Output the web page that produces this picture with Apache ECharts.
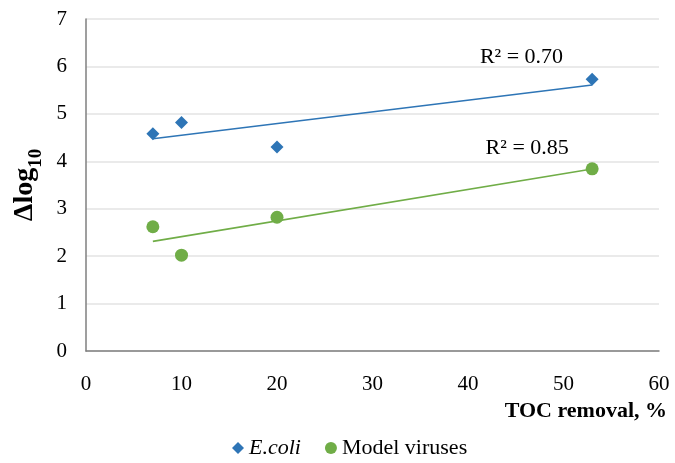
<!DOCTYPE html>
<html><head><meta charset="utf-8">
<script src="https://cdn.jsdelivr.net/npm/echarts@6/dist/echarts.min.js"></script>
<style>html,body{margin:0;padding:0;background:#fff}#c{width:675px;height:463px}</style>
</head><body><div id="c"></div>
<script>
const toc = [7, 10, 20, 53];
const ecoli = [4.58, 4.82, 4.30, 5.73];
const viruses = [2.62, 2.02, 2.82, 3.84];
const xTicks = [0, 10, 20, 30, 40, 50, 60];
const yTicks = [0, 1, 2, 3, 4, 5, 6, 7];
const r2Labels = ['R² = 0.70', 'R² = 0.85'];
const r2Pos = [[45.6, 6.2], [46.2, 4.28]];

function fit(xs, ys) {
  const n = xs.length;
  const mx = xs.reduce((a, b) => a + b, 0) / n;
  const my = ys.reduce((a, b) => a + b, 0) / n;
  let sxy = 0, sxx = 0;
  for (let i = 0; i < n; i++) { sxy += (xs[i] - mx) * (ys[i] - my); sxx += (xs[i] - mx) ** 2; }
  const b = sxy / sxx, a = my - b * mx;
  const x0 = Math.min(...xs), x1 = Math.max(...xs);
  return [[x0, a + b * x0], [x1, a + b * x1]];
}
const pts = (xs, ys) => xs.map((x, i) => [x, ys[i]]);
const BLUE = '#2E75B6', GREEN = '#70AD47';
const FONT = 'Liberation Serif';

const chart = echarts.init(document.getElementById('c'));
chart.setOption({
  animation: false,
  textStyle: { fontFamily: FONT },
  grid: { left: 86, right: 16, top: 19, bottom: 112, containLabel: false },
  legend: {
    bottom: -1, left: 227, itemWidth: 12, itemHeight: 12, itemGap: 24,
    data: [{ name: 'E.coli', icon: 'diamond' }, { name: 'Model viruses', icon: 'circle' }],
    formatter: n => n === 'E.coli' ? '{i|E.coli}' : n,
    textStyle: { fontFamily: FONT, fontSize: 22, color: '#000', rich: { i: { fontStyle: 'italic', fontFamily: FONT, fontSize: 22 } } }
  },
  xAxis: {
    type: 'value', min: xTicks[0], max: xTicks[xTicks.length - 1], interval: 10,
    axisLine: { show: true, lineStyle: { color: '#7f7f7f', width: 1.5 } },
    axisTick: { show: false }, splitLine: { show: false },
    axisLabel: { fontFamily: FONT, fontSize: 21, color: '#000', margin: 23 },
    name: 'TOC removal, %', nameLocation: 'end', nameGap: 8,
    nameTextStyle: { fontFamily: FONT, fontSize: 22, fontWeight: 'bold', color: '#000', align: 'right', verticalAlign: 'top', padding: [49, 0, 0, 0] }
  },
  yAxis: {
    type: 'value', min: yTicks[0], max: yTicks[yTicks.length - 1], interval: 1,
    axisLine: { show: true, lineStyle: { color: '#7f7f7f', width: 1.5 } },
    axisTick: { show: false },
    splitLine: { lineStyle: { color: '#e3e3e3', width: 1.5 } },
    axisLabel: { fontFamily: FONT, fontSize: 21, color: '#000', margin: 19 },
    name: '{a|Δlog}{b|10}', nameLocation: 'middle', nameGap: 41,
    nameTextStyle: {
      color: '#000',
      rich: {
        a: { fontFamily: FONT, fontSize: 28, fontWeight: 'bold', color: '#000', verticalAlign: 'bottom', lineHeight: 30 },
        b: { fontFamily: FONT, fontSize: 19, fontWeight: 'bold', color: '#000', verticalAlign: 'bottom', lineHeight: 20, padding: [0, 0, -7, 0] }
      }
    }
  },
  series: [
    { name: 'E.coli', type: 'scatter', symbol: 'diamond', symbolSize: 13, itemStyle: { color: BLUE, opacity: 1 }, data: pts(toc, ecoli), z: 3 },
    { name: 'Model viruses', type: 'scatter', symbol: 'circle', symbolSize: 13, itemStyle: { color: GREEN, opacity: 1 }, data: pts(toc, viruses), z: 3 },
    { name: 'trendE', type: 'line', showSymbol: false, symbol: 'none', lineStyle: { color: BLUE, width: 1.6 }, data: fit(toc, ecoli), z: 2,
      markPoint: { symbol: 'circle', symbolSize: 0, data: [{ coord: r2Pos[0], label: { show: true, formatter: r2Labels[0], fontFamily: FONT, fontSize: 22, color: '#000', position: 'inside' } }] } },
    { name: 'trendV', type: 'line', showSymbol: false, symbol: 'none', lineStyle: { color: GREEN, width: 1.6 }, data: fit(toc, viruses), z: 2,
      markPoint: { symbol: 'circle', symbolSize: 0, data: [{ coord: r2Pos[1], label: { show: true, formatter: r2Labels[1], fontFamily: FONT, fontSize: 22, color: '#000', position: 'inside' } }] } }
  ]
});
</script></body></html>
